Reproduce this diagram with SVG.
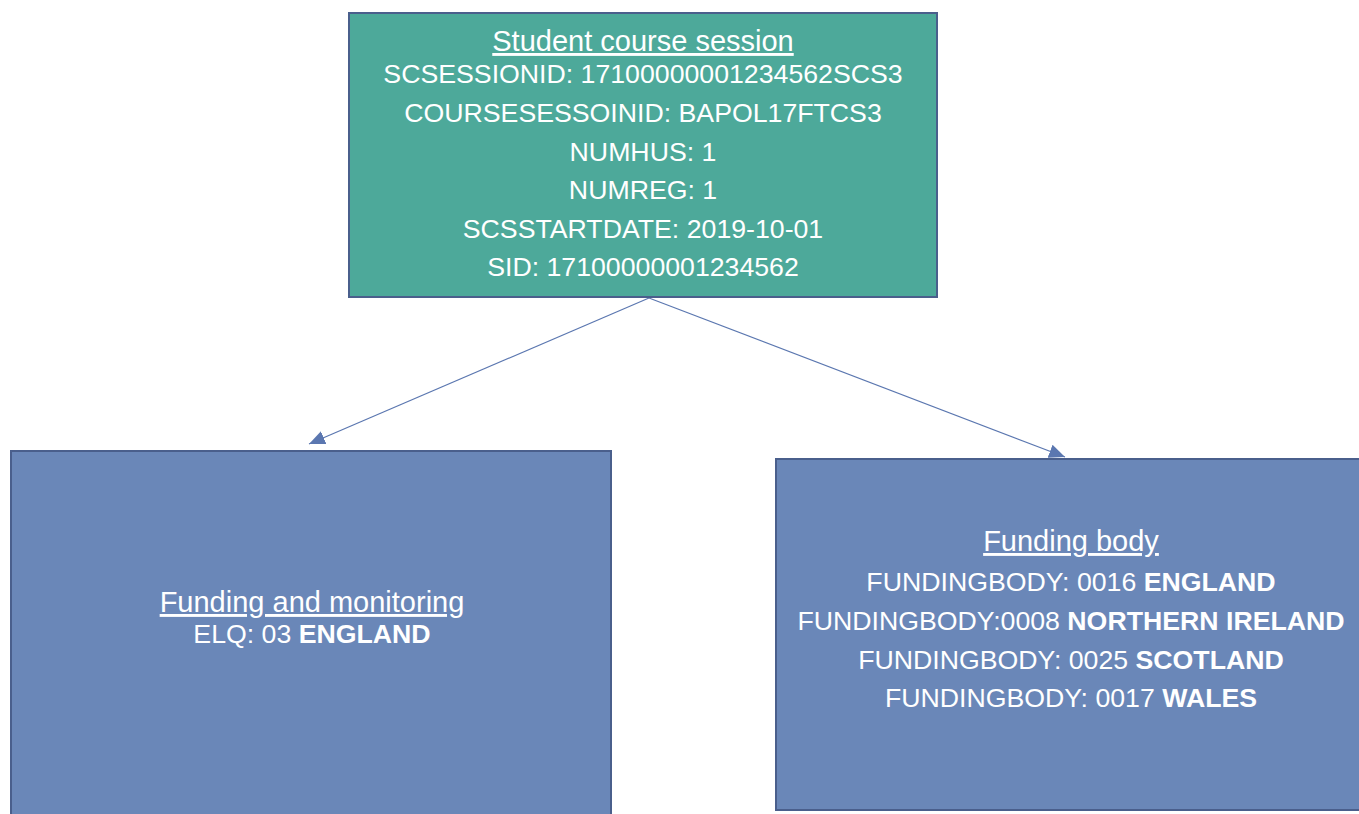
<svg xmlns="http://www.w3.org/2000/svg" width="1359" height="814" viewBox="0 0 1359 814">
<style>
.box{stroke:#4A5F8C;stroke-width:2}
.teal{fill:#4DA99A}
.blue{fill:#6A87B8}
text{font-family:"Liberation Sans",Arial,sans-serif;fill:#FFFFFF;text-anchor:middle}
.t{font-size:29px;text-decoration:underline}
.b{font-size:26.7px}
.bold{font-weight:bold}
.conn{stroke:#5B77B0;stroke-width:1.2;fill:none}
</style>
<defs>
<marker id="arr" markerUnits="userSpaceOnUse" markerWidth="18" markerHeight="14" refX="16" refY="7" orient="auto">
<path d="M0,0 L16,7 L0,14 Z" fill="#5B77B0"/>
</marker>
</defs>
<rect width="1359" height="814" fill="#FFFFFF"/>
<g id="connectors">
<line class="conn" x1="649" y1="298" x2="309" y2="444" marker-end="url(#arr)"/>
<line class="conn" x1="649" y1="298" x2="1065" y2="457" marker-end="url(#arr)"/>
</g>
<g id="student-course-session">
<rect class="box teal" x="349" y="13" width="588" height="284"/>
<text class="t" x="643" y="51">Student course session</text>
<text class="b" x="643" y="83">SCSESSIONID: 17100000001234562SCS3</text>
<text class="b" x="643" y="122">COURSESESSOINID: BAPOL17FTCS3</text>
<text class="b" x="643" y="161">NUMHUS: 1</text>
<text class="b" x="643" y="199">NUMREG: 1</text>
<text class="b" x="643" y="238">SCSSTARTDATE: 2019-10-01</text>
<text class="b" x="643" y="276">SID: 17100000001234562</text>
</g>
<g id="funding-and-monitoring">
<rect class="box blue" x="11" y="451" width="600" height="380"/>
<text class="t" x="312" y="612">Funding and monitoring</text>
<text class="b" x="312" y="643">ELQ: 03 <tspan class="bold">ENGLAND</tspan></text>
</g>
<g id="funding-body">
<rect class="box blue" x="776" y="459" width="600" height="351"/>
<text class="t" x="1071" y="551">Funding body</text>
<text class="b" x="1071" y="591">FUNDINGBODY: 0016 <tspan class="bold">ENGLAND</tspan></text>
<text class="b" x="1071" y="630">FUNDINGBODY:0008 <tspan class="bold">NORTHERN IRELAND</tspan></text>
<text class="b" x="1071" y="669">FUNDINGBODY: 0025 <tspan class="bold">SCOTLAND</tspan></text>
<text class="b" x="1071" y="707">FUNDINGBODY: 0017 <tspan class="bold">WALES</tspan></text>
</g>
</svg>
